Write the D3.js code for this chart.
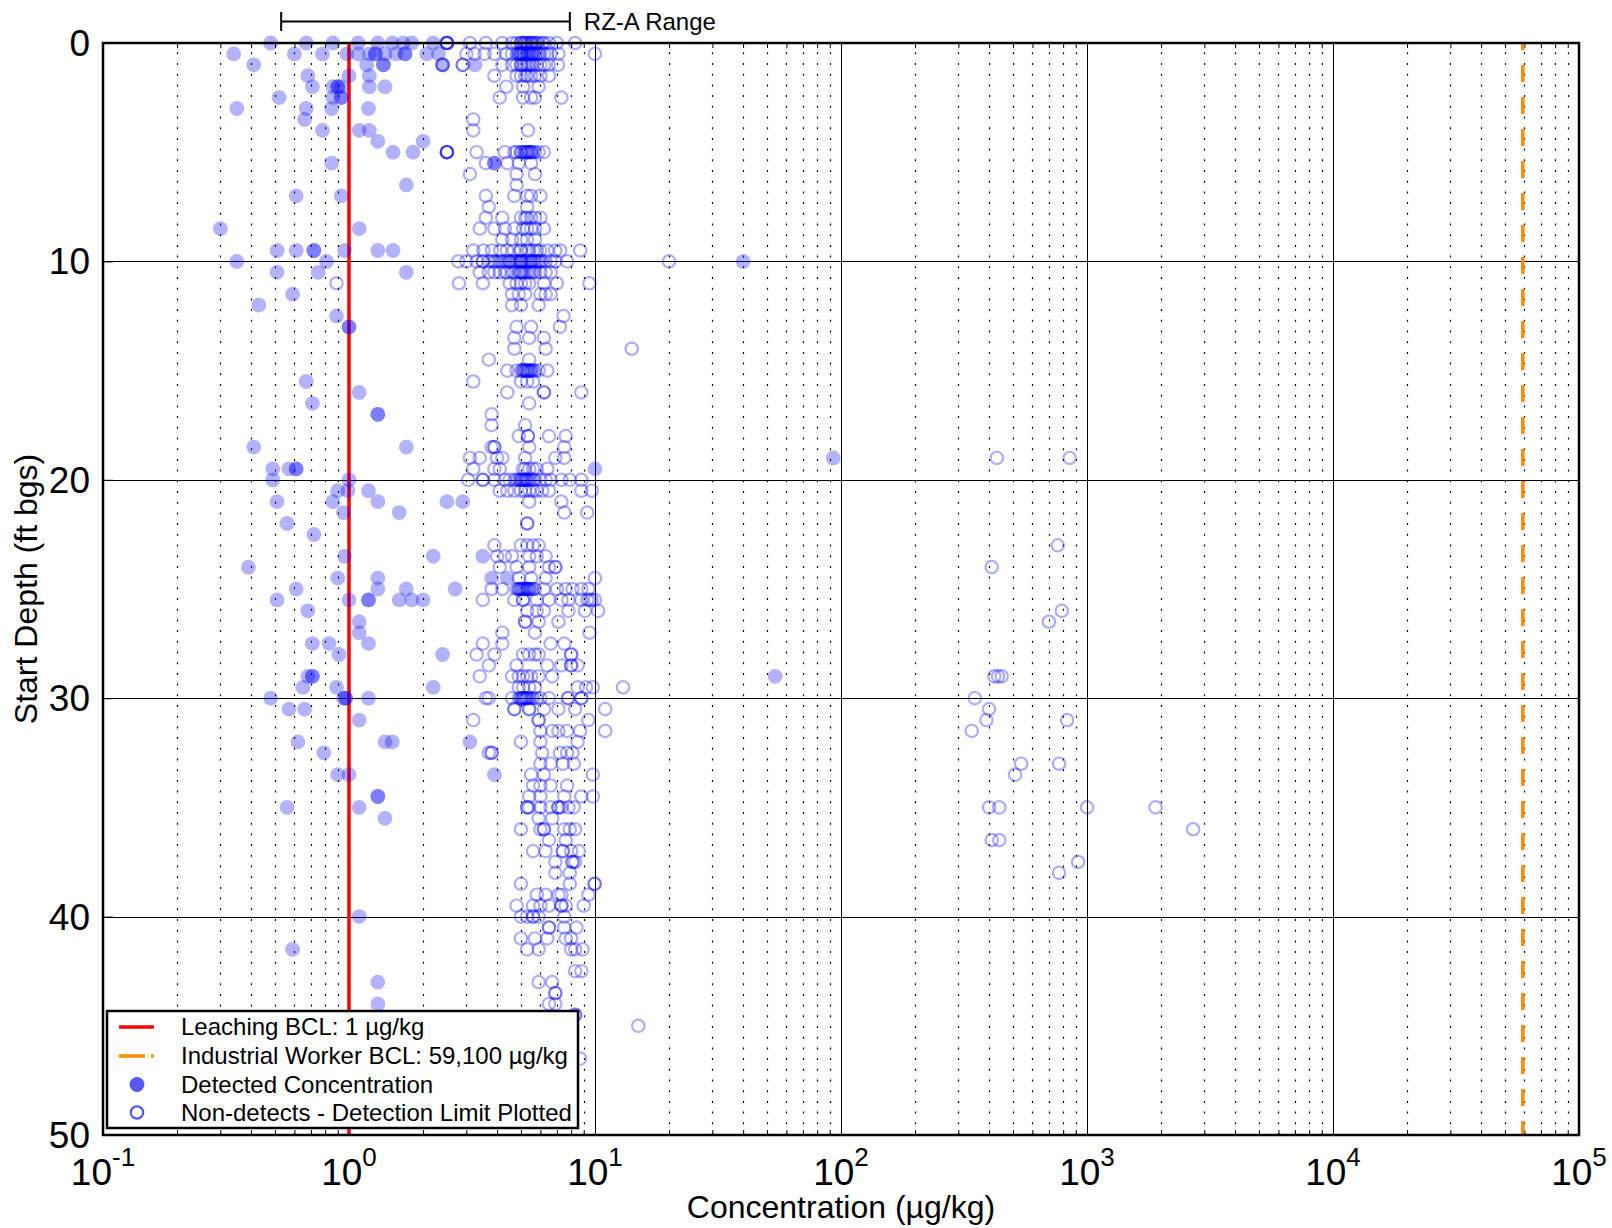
<!DOCTYPE html>
<html><head><meta charset="utf-8">
<script src="https://cdn.jsdelivr.net/npm/d3@7"></script>
<style>html,body{margin:0;padding:0;background:#fff;} svg{display:block;font-family:"Liberation Sans",Arial,Helvetica,sans-serif;}</style>
</head><body><svg id="chart" width="1612" height="1228"></svg>
<script>
// ---------- data ----------
const xTickValues = [0.1, 1, 10, 100, 1000, 10000, 100000];
const xTickExponents = ["-1", "0", "1", "2", "3", "4", "5"];
const yTickValues = [0, 10, 20, 30, 40, 50];
const leachingBCL = 1;
const industrialBCL = 59100;
const rzaRange = [0.53, 7.9];
const legendLabels = ["Leaching BCL: 1 \u00b5g/kg", "Industrial Worker BCL: 59,100 \u00b5g/kg",
  "Detected Concentration", "Non-detects - Detection Limit Plotted"];

// [depth (ft bgs), [concentrations (µg/kg)]]
const detectedRows = [
  [0, [0.48, 0.67, 0.86, 1.09, 1.31, 1.5, 1.66, 1.8, 2.2]],
  [0.5, [0.34, 0.6, 0.78, 0.98, 1.09, 1.21, 1.28, 1.28, 1.4, 1.55, 1.69, 1.69, 2.07, 2.31]],
  [1, [0.41, 1.18, 1.38, 1.38, 2.4, 3.25]],
  [1.5, [0.68, 1.0, 1.21]],
  [2, [0.71, 0.86, 0.9, 0.9, 0.93, 1.21, 1.4]],
  [2.5, [0.52, 0.86, 0.93, 0.93]],
  [3, [0.35, 0.67, 0.85, 1.2]],
  [3.5, [0.66]],
  [4, [0.78, 1.1, 1.21]],
  [4.5, [1.31, 2.0]],
  [5, [1.51, 1.82]],
  [5.5, [0.85, 3.9, 3.9]],
  [6.5, [1.71]],
  [7, [0.61, 0.93]],
  [8.5, [0.3, 1.1]],
  [9.5, [0.51, 0.61, 0.72, 0.72, 0.96, 1.31, 1.51]],
  [10, [0.35, 0.81, 40]],
  [10.5, [0.51, 0.75, 1.71]],
  [11.5, [0.59]],
  [12, [0.43]],
  [12.5, [0.89]],
  [13, [1.0, 1.0]],
  [15.5, [0.67]],
  [16, [1.1]],
  [16.5, [0.71]],
  [17, [1.31, 1.31]],
  [18.5, [0.41, 1.71]],
  [19, [93]],
  [19.5, [0.49, 0.57, 0.61, 0.61, 10]],
  [20, [0.49, 1.0]],
  [20.5, [0.9, 0.99, 1.2]],
  [21, [0.51, 0.86, 1.31, 2.5, 2.9]],
  [21.5, [0.95, 1.6]],
  [22, [0.56]],
  [22.5, [0.72]],
  [23.5, [0.96, 2.2, 3.5]],
  [24, [0.39]],
  [24.5, [0.9, 1.31, 3.8, 4.4]],
  [25, [0.61, 1.31, 1.71, 2.7]],
  [25.5, [0.51, 1.0, 1.2, 1.2, 1.6, 1.8, 2.0]],
  [26, [0.68]],
  [26.5, [1.1]],
  [27, [1.1]],
  [27.5, [0.71, 0.83, 1.2]],
  [28, [0.91, 2.4]],
  [29, [0.68, 0.71, 0.71, 54]],
  [29.5, [0.65, 0.89, 2.2]],
  [30, [0.48, 0.95, 0.97, 0.97, 1.2]],
  [30.5, [0.57, 0.66]],
  [31, [1.1]],
  [32, [0.62, 1.4, 1.5, 3.1]],
  [32.5, [0.79]],
  [33.5, [0.9, 1.0, 3.9]],
  [34.5, [1.31, 1.31]],
  [35, [0.56, 1.1]],
  [35.5, [1.4]],
  [40, [1.1]],
  [41.5, [0.59]],
  [43, [1.31]],
  [44, [1.31]]
];

const nonDetectRows = [
  [0, [2.5, 2.5, 2.5, 2.5, 3.1, 3.6, 4.2, 4.6, 4.8, 5.0, 5.0, 5.1, 5.2, 5.2, 5.3, 5.4, 5.5, 5.5, 5.6, 5.7, 5.8, 5.9, 6.1, 6.2, 6.5, 7.0, 8.3]],
  [0.5, [3.0, 3.24, 3.56, 3.9, 4.36, 4.6, 4.8, 4.9, 4.9, 5.0, 5.0, 5.0, 5.1, 5.1, 5.2, 5.2, 5.3, 5.3, 5.4, 5.4, 5.5, 5.5, 5.6, 5.6, 5.7, 5.8, 5.9, 6.0, 6.2, 6.4, 6.6, 7.1, 10.0]],
  [1, [2.4, 2.4, 2.9, 2.9, 4.2, 4.6, 4.8, 5.0, 5.0, 5.1, 5.2, 5.3, 5.4, 5.5, 5.6, 5.8, 6.0, 6.2, 6.5, 7.07]],
  [1.5, [3.9, 4.8, 5.0, 5.2, 5.3, 5.5, 5.7, 6.0, 6.5]],
  [2, [4.36, 5.1, 5.9]],
  [2.5, [4.1, 5.1, 5.5, 5.7, 7.3]],
  [3.5, [3.2]],
  [4, [3.2, 5.34]],
  [5, [2.5, 2.5, 2.5, 2.5, 3.3, 4.3, 4.7, 4.8, 5.0, 5.0, 5.1, 5.2, 5.2, 5.3, 5.3, 5.4, 5.4, 5.5, 5.5, 5.6, 5.7, 5.9, 6.2]],
  [5.5, [3.6, 4.4, 4.9, 5.5]],
  [6, [3.1, 4.8, 5.7]],
  [6.5, [4.8]],
  [7, [3.6, 4.7, 5.3, 5.5, 6.0]],
  [7.5, [3.7, 5.3]],
  [8, [3.6, 4.2, 5.0, 5.2, 5.3, 5.5, 5.7, 6.0]],
  [8.5, [3.4, 3.9, 4.3, 4.7, 5.1, 5.3, 5.5, 5.7, 6.2]],
  [9, [4.2, 4.6, 5.0, 5.3, 5.7]],
  [9.5, [3.2, 3.52, 3.81, 4.12, 4.39, 4.67, 4.97, 5.0, 5.29, 5.4, 5.62, 5.8, 5.98, 6.4, 6.89, 7.22, 8.71]],
  [10, [2.78, 3.0, 3.3, 3.5, 3.5, 3.7, 3.8, 3.9, 4.0, 4.1, 4.2, 4.3, 4.4, 4.5, 4.5, 4.6, 4.7, 4.8, 4.9, 5.0, 5.0, 5.0, 5.1, 5.2, 5.3, 5.4, 5.5, 5.5, 5.6, 5.7, 5.8, 5.9, 6.0, 6.1, 6.3, 6.6, 6.9, 7.7, 20]],
  [10.5, [3.4, 3.7, 3.9, 4.1, 4.3, 4.4, 4.6, 4.7, 4.9, 5.0, 5.0, 5.1, 5.2, 5.3, 5.4, 5.5, 5.6, 5.7, 6.0, 6.3, 6.6]],
  [11, [0.89, 2.8, 3.5, 4.5, 4.8, 5.0, 5.2, 5.4, 6.2, 7.0, 9.5]],
  [11.5, [4.6, 4.9, 5.2, 6.0, 6.3, 6.6]],
  [12, [4.6, 5.0, 5.9]],
  [12.5, [7.45]],
  [13, [4.8, 5.5, 7.2]],
  [13.5, [4.7, 5.4, 6.2]],
  [14, [4.7, 6.3, 14.1]],
  [14.5, [3.7, 5.4]],
  [15, [4.4, 4.8, 5.0, 5.1, 5.1, 5.2, 5.2, 5.3, 5.3, 5.4, 5.4, 5.5, 5.5, 5.6, 5.7, 5.9, 6.4]],
  [15.5, [3.2, 5.0, 5.3, 5.6]],
  [16, [4.4, 6.2, 6.2, 8.8]],
  [16.5, [5.4]],
  [17, [3.8]],
  [17.5, [3.8, 5.2]],
  [18, [4.9, 5.34, 5.34, 6.5, 7.6]],
  [18.5, [3.8, 3.9, 3.9, 5.4, 7.5]],
  [19, [3.1, 3.4, 4.0, 4.2, 5.2, 6.9, 7.5, 430, 850]],
  [19.5, [3.2, 3.9, 4.1, 5.1, 5.2, 5.4, 5.6, 5.8, 6.4]],
  [20, [3.05, 3.5, 3.5, 3.9, 4.3, 4.5, 4.7, 4.8, 4.9, 5.0, 5.0, 5.1, 5.1, 5.2, 5.2, 5.3, 5.3, 5.4, 5.5, 5.6, 5.7, 6.0, 6.3, 6.6, 7.3, 7.9, 8.8]],
  [20.5, [4.1, 4.4, 4.7, 5.0, 5.2, 5.4, 5.6, 5.8, 6.1, 6.5, 8.8, 9.7]],
  [21, [5.4, 7.3]],
  [21.5, [7.5, 9.3]],
  [22, [5.3, 5.3]],
  [23, [3.9, 5.0, 5.3, 5.6, 5.9, 760]],
  [23.5, [4.0, 4.3, 4.6, 5.4, 5.8, 6.3]],
  [24, [4.1, 4.8, 5.4, 6.5, 6.9, 6.9, 410]],
  [24.5, [4.9, 5.5, 6.3, 10]],
  [25, [3.8, 4.2, 4.8, 4.9, 4.9, 5.0, 5.0, 5.1, 5.1, 5.2, 5.2, 5.3, 5.3, 5.4, 5.4, 5.5, 5.6, 5.7, 6.2, 7.0, 7.6, 8.1, 8.8, 9.4]],
  [25.5, [3.5, 4.7, 5.1, 5.1, 5.8, 6.5, 7.3, 7.8, 8.8, 9.3, 9.5, 9.7, 10.0]],
  [26, [5.3, 5.8, 6.2, 7.8, 9.1, 10.3, 790]],
  [26.5, [5.2, 5.2, 5.9, 7.1, 700]],
  [27, [4.2, 5.7, 9.5]],
  [27.5, [3.5, 4.2, 6.6, 7.5]],
  [28, [3.3, 3.9, 5.1, 5.4, 5.7, 5.9, 8.0, 8.0]],
  [28.5, [3.7, 4.8, 6.4, 7.3, 8.0, 8.0, 8.5]],
  [29, [3.4, 4.6, 4.9, 5.1, 5.3, 5.5, 5.9, 6.7, 420, 435, 450]],
  [29.5, [4.9, 5.1, 5.4, 5.7, 8.5, 9.2, 9.8, 13]],
  [30, [3.6, 3.7, 4.6, 4.9, 5.0, 5.0, 5.1, 5.1, 5.2, 5.2, 5.3, 5.3, 5.4, 5.5, 5.6, 5.8, 6.0, 6.5, 7.77, 7.77, 8.8, 8.8, 350]],
  [30.5, [4.7, 4.7, 5.4, 5.4, 6.2, 7.1, 8.3, 11, 400]],
  [31, [3.2, 5.9, 5.9, 9.4, 390, 830]],
  [31.5, [6.0, 6.7, 7.1, 7.7, 8.7, 11, 340]],
  [32, [5.0, 6.0, 8.5]],
  [32.5, [3.7, 3.8, 3.8, 6.1, 7.2, 7.7, 8.1]],
  [33, [6.0, 6.6, 7.4, 8.2, 540, 770]],
  [33.5, [5.5, 6.2, 9.8, 510]],
  [34, [5.6, 6.0, 6.6, 7.7]],
  [34.5, [5.4, 6.0, 7.5, 8.8, 9.8]],
  [35, [5.3, 5.3, 5.4, 6.0, 6.6, 7.1, 7.1, 7.3, 7.8, 8.2, 400, 440, 1000, 1900]],
  [35.5, [5.9, 6.7]],
  [36, [5.0, 6.0, 6.2, 6.2, 7.5, 7.9, 8.3, 2700]],
  [36.5, [6.5, 7.6, 410, 440]],
  [37, [5.6, 6.3, 7.4, 7.4, 8.0, 8.6]],
  [37.5, [6.9, 8.1, 8.1, 8.3, 920]],
  [38, [6.9, 7.9, 770]],
  [38.5, [5.0, 7.9, 9.97, 9.97]],
  [39, [5.8, 6.3, 7.1, 7.3, 9.4]],
  [39.5, [4.8, 5.6, 6.0, 6.5, 7.3, 7.3, 7.6, 9.0]],
  [40, [5.0, 5.3, 5.6, 5.6, 5.9, 7.5]],
  [40.5, [6.5, 6.5, 7.5, 8.4]],
  [41, [5.0, 5.7, 6.4, 7.6, 8.0]],
  [41.5, [5.3, 5.9, 8.0, 8.3, 8.9]],
  [42.5, [8.3, 8.8]],
  [43, [5.9, 6.7]],
  [43.5, [6.9, 6.9]],
  [44, [6.5, 6.9]],
  [44.5, [8.3, 8.3]],
  [45, [15]],
  [46.5, [8.7]]
];

// ---------- layout ----------
const L = 103, R = 1579, T = 43, B = 1135;
const svg = d3.select("#chart");
const x = d3.scaleLog().domain([0.1, 1e5]).range([L, R]);
const y = d3.scaleLinear().domain([0, 50]).range([T, B]);

const flat = rows => rows.flatMap(([d, cs]) => cs.map(c => ({c, d})));
const detected = flat(detectedRows);
const nonDetects = flat(nonDetectRows);

const crisp = v => Math.round(v) + 0.5;
const isPow10 = v => Math.abs(Math.log10(v) - Math.round(Math.log10(v))) < 1e-9;
const minorX = x.ticks().filter(v => !isPow10(v));

// grid
const grid = svg.append("g");
grid.selectAll("line.minor").data(minorX).join("line")
  .attr("x1", d => crisp(x(d))).attr("x2", d => crisp(x(d)))
  .attr("y1", B).attr("y2", T)
  .attr("stroke", "#000").attr("stroke-width", 1.2).attr("stroke-dasharray", "2,8.7");
grid.selectAll("line.majx").data(xTickValues.slice(1, -1)).join("line")
  .attr("x1", d => crisp(x(d))).attr("x2", d => crisp(x(d)))
  .attr("y1", T).attr("y2", B).attr("stroke", "#000").attr("stroke-width", 1);
grid.selectAll("line.majy").data(yTickValues.slice(1, -1)).join("line")
  .attr("y1", d => crisp(y(d))).attr("y2", d => crisp(y(d)))
  .attr("x1", L).attr("x2", R).attr("stroke", "#000").attr("stroke-width", 1);

// axes ticks
const axB = svg.append("g").attr("transform", `translate(0,${B})`)
  .call(d3.axisBottom(x).tickValues(minorX).tickSizeInner(-5).tickSizeOuter(0).tickFormat(() => ""));
const axT = svg.append("g").attr("transform", `translate(0,${T})`)
  .call(d3.axisTop(x).tickValues(minorX).tickSizeInner(-5).tickSizeOuter(0).tickFormat(() => ""));
const axBM = svg.append("g").attr("transform", `translate(0,${B})`)
  .call(d3.axisBottom(x).tickValues(xTickValues).tickSizeInner(-10).tickSizeOuter(0).tickFormat(() => ""));
const axL = svg.append("g").attr("transform", `translate(${L},0)`)
  .call(d3.axisLeft(y).tickValues(yTickValues).tickSizeInner(-10).tickSizeOuter(0).tickFormat(() => ""));
[axB, axT, axBM, axL].forEach(a => { a.select(".domain").remove(); a.selectAll("line").attr("stroke", "#000"); });

// reference lines
svg.append("line").attr("x1", x(leachingBCL)).attr("x2", x(leachingBCL)).attr("y1", T).attr("y2", B)
  .attr("stroke", "#ff0000").attr("stroke-width", 3.5);
svg.append("line").attr("x1", x(industrialBCL)).attr("x2", x(industrialBCL)).attr("y1", T).attr("y2", B)
  .attr("stroke", "#ff8c00").attr("stroke-width", 3.5).attr("stroke-dasharray", "17,15").attr("stroke-dashoffset", 10);

// points
const pts = svg.append("g");
pts.selectAll("circle.det").data(detected).join("circle")
  .attr("cx", d => x(d.c)).attr("cy", d => y(d.d)).attr("r", 7.4)
  .attr("fill", "#0000ff").attr("fill-opacity", 0.3);
pts.selectAll("circle.nd").data(nonDetects).join("circle")
  .attr("cx", d => x(d.c)).attr("cy", d => y(d.d)).attr("r", 6.2)
  .attr("fill", "none").attr("stroke", "#0000ff").attr("stroke-opacity", 0.32).attr("stroke-width", 2.2);

// frame
svg.append("rect").attr("x", L).attr("y", T).attr("width", R - L).attr("height", B - T)
  .attr("fill", "none").attr("stroke", "#000").attr("stroke-width", 2.5);

// tick labels
const xl = svg.append("g");
xTickValues.forEach((v, i) => {
  const t = xl.append("text").attr("x", x(v)).attr("y", 1185).attr("text-anchor", "middle")
    .attr("font-size", 37).attr("fill", "#000");
  t.append("tspan").text("10");
  t.append("tspan").attr("font-size", 26).attr("dy", -19).text(xTickExponents[i]);
});
svg.append("g").selectAll("text").data(yTickValues).join("text")
  .attr("x", 90).attr("y", d => y(d)).attr("dy", "0.35em").attr("text-anchor", "end")
  .attr("font-size", 37).attr("fill", "#000").text(d => d);

// axis titles
svg.append("text").attr("x", (L + R) / 2).attr("y", 1218).attr("text-anchor", "middle")
  .attr("font-size", 32).text("Concentration (\u00b5g/kg)");
svg.append("text").attr("transform", `translate(37,${(T + B) / 2}) rotate(-90)`).attr("text-anchor", "middle")
  .attr("font-size", 32).text("Start Depth (ft bgs)");

// RZ-A range bar
const rz = svg.append("g").attr("stroke", "#000").attr("stroke-width", 2);
rz.append("line").attr("x1", x(rzaRange[0])).attr("x2", x(rzaRange[1])).attr("y1", 21.5).attr("y2", 21.5);
rz.append("line").attr("x1", x(rzaRange[0])).attr("x2", x(rzaRange[0])).attr("y1", 12).attr("y2", 31);
rz.append("line").attr("x1", x(rzaRange[1])).attr("x2", x(rzaRange[1])).attr("y1", 12).attr("y2", 31);
svg.append("text").attr("x", x(rzaRange[1]) + 14).attr("y", 30).attr("font-size", 24).text("RZ-A Range");

// legend
const lg = svg.append("g");
lg.append("rect").attr("x", 107).attr("y", 1011).attr("width", 471).attr("height", 117)
  .attr("fill", "#fff").attr("stroke", "#000").attr("stroke-width", 2.5);
const rowY = [1027, 1056, 1084.5, 1112.5];
lg.append("line").attr("x1", 119).attr("x2", 154).attr("y1", rowY[0]).attr("y2", rowY[0])
  .attr("stroke", "#ff0000").attr("stroke-width", 3.5);
lg.append("line").attr("x1", 119).attr("x2", 154).attr("y1", rowY[1]).attr("y2", rowY[1])
  .attr("stroke", "#ff8c00").attr("stroke-width", 3.5).attr("stroke-dasharray", "26,6");
lg.append("circle").attr("cx", 137).attr("cy", rowY[2]).attr("r", 7.4).attr("fill", "#0000ff").attr("fill-opacity", 0.66);
lg.append("circle").attr("cx", 137).attr("cy", rowY[3]).attr("r", 6.2).attr("fill", "none")
  .attr("stroke", "#0000ff").attr("stroke-opacity", 0.66).attr("stroke-width", 2.2);
lg.selectAll("text").data(legendLabels).join("text")
  .attr("x", 181).attr("y", (d, i) => rowY[i]).attr("dy", "0.35em").attr("font-size", 24).text(d => d);
</script></body></html>
